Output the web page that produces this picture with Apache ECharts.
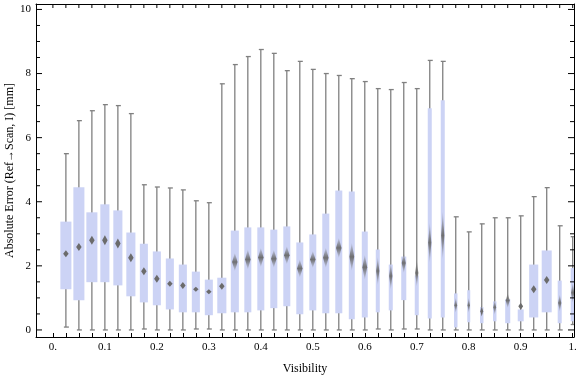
<!DOCTYPE html>
<html>
<head>
    <meta charset="utf-8">
    <title>Absolute Error vs Visibility</title>
    <script src="https://cdn.jsdelivr.net/npm/echarts@6.0.0/dist/echarts.min.js"></script>
    <style type="text/css">
        * {
            margin: 0;
            padding: 0;
        }

        #main {
            width: 576px;
            height: 377px;
        }
    </style>
</head>
<body>
<div id="main"></div>

<script type="text/javascript">
    // visibility bins (box centres)
    var visibility = [0.025, 0.05, 0.075, 0.1, 0.125, 0.15, 0.175, 0.2, 0.225, 0.25,
        0.275, 0.3, 0.325, 0.35, 0.375, 0.4, 0.425, 0.45, 0.475, 0.5,
        0.525, 0.55, 0.575, 0.6, 0.625, 0.65, 0.675, 0.7, 0.725, 0.75,
        0.775, 0.8, 0.825, 0.85, 0.875, 0.9, 0.925, 0.95, 0.975, 1.0];

    var whiskerLow = [0.09, 0, 0, 0, 0, 0, 0.03, 0, 0, 0,
        0.03, 0.03, 0, 0, 0, 0, 0, 0, 0, 0,
        0, 0, 0, 0, 0.03, 0, 0.03, 0.03, 0, 0,
        0, 0, 0, 0, 0, 0, 0, 0, 0, 0.17];

    var quart1 = [1.27, 0.93, 1.49, 1.49, 1.39, 1.05, 0.86, 0.77, 0.64, 0.55,
        0.55, 0.46, 0.52, 0.55, 0.55, 0.61, 0.68, 0.74, 0.49, 0.61,
        0.52, 0.52, 0.33, 0.39, 0.55, 0.61, 0.93, 0.46, 0.36, 0.39,
        0.08, 0.24, 0.21, 0.27, 0.21, 0.27, 0.39, 0.55, 0.21, 0.27];

    var median = [2.38, 2.59, 2.80, 2.80, 2.70, 2.25, 1.83, 1.60, 1.44, 1.39,
        1.27, 1.19, 1.36, 2.12, 2.20, 2.26, 2.22, 2.33, 1.92, 2.20,
        2.25, 2.56, 2.28, 1.96, 1.84, 1.68, 2.09, 1.78, 2.72, 2.95,
        0.77, 0.77, 0.58, 0.71, 0.92, 0.74, 1.27, 1.56, 0.84, 1.16];

    var quart3 = [3.38, 4.45, 3.67, 3.92, 3.73, 3.04, 2.69, 2.45, 2.23, 2.04,
        1.82, 1.57, 1.63, 3.10, 3.20, 3.20, 3.13, 3.23, 2.73, 2.98,
        3.63, 4.35, 4.32, 3.07, 2.51, 2.04, 2.29, 1.70, 6.92, 7.17,
        1.14, 1.24, 0.71, 0.89, 0.96, 0.64, 2.04, 2.48, 1.54, 1.93];

    var whiskerHigh = [5.50, 6.53, 6.84, 7.03, 7.00, 6.75, 4.53, 4.46, 4.43, 4.37,
        4.03, 3.97, 7.68, 8.28, 8.53, 8.75, 8.63, 8.09, 8.38, 8.13,
        8.00, 7.94, 7.84, 7.75, 7.53, 7.50, 7.72, 7.53, 8.41, 8.38,
        3.53, 3.06, 3.31, 3.50, 3.50, 3.56, 4.16, 4.44, 3.25, 2.91];

    // relative box width (fraction of one bin) and vertical smear of the median mark (px)
    var boxWidthRel = [0.85, 0.85, 0.85, 0.70, 0.70, 0.70, 0.62, 0.62, 0.62, 0.62,
        0.62, 0.62, 0.70, 0.62, 0.54, 0.54, 0.54, 0.54, 0.54, 0.54,
        0.54, 0.54, 0.46, 0.46, 0.31, 0.31, 0.39, 0.31, 0.31, 0.31,
        0.27, 0.23, 0.27, 0.27, 0.39, 0.46, 0.70, 0.77, 0.31, 0.31];
    var medianSmear = [7, 8, 9, 10, 10, 9, 8, 8, 6, 7,
        5, 5, 7, 18, 20, 19, 18, 18, 18, 17,
        20, 20, 28, 25, 28, 27, 20, 27, 40, 48,
        15, 15, 10, 15, 15, 7, 8, 8, 17, 20];

    var xLabelTicks = [0, 0.1, 0.2, 0.3, 0.4, 0.5, 0.6, 0.7, 0.8, 0.9, 1];
    var yLabelTicks = [0, 2, 4, 6, 8, 10];

    var xTicks = [];
    for (var i = 0; i <= 40; i++) xTicks.push(+(i * 0.025).toFixed(3));
    var yTicks = [];
    for (var j = 0; j <= 20; j++) yTicks.push(j * 0.5);

    var boxData = [];
    for (var k = 0; k < visibility.length; k++) {
        boxData.push([visibility[k], whiskerLow[k], quart1[k], median[k], quart3[k], whiskerHigh[k], boxWidthRel[k], medianSmear[k]]);
    }

    var xMin = -0.0325, xMax = 1.0025;
    var yMin = -0.22, yMax = 10.17;

    var myChart = echarts.init(document.getElementById('main'));

    var serif = 'Liberation Serif';
    var lineStyle = {color: '#000', width: 1};

    function renderItem(params, api) {
        var x = api.value(0);
        var lo = api.coord([x, api.value(1)]);
        var p1 = api.coord([x, api.value(2)]);
        var pm = api.coord([x, api.value(3)]);
        var p3 = api.coord([x, api.value(4)]);
        var hi = api.coord([x, api.value(5)]);
        var bw = api.value(6) * api.size([0.025, 0])[0];
        var mh = api.value(7);
        var mw = Math.min(5.5, bw * 0.8);
        var cx = lo[0];
        var grey = '#808080';

        var markFill;
        if (mh <= 10) {
            markFill = '#6b6b6b';
        } else {
            markFill = new echarts.graphic.LinearGradient(0, 0, 0, 1, [
                {offset: 0, color: 'rgba(110,110,110,0.1)'},
                {offset: 0.5, color: 'rgba(105,105,105,0.95)'},
                {offset: 1, color: 'rgba(110,110,110,0.1)'}
            ]);
        }

        return {
            type: 'group',
            children: [
                {
                    type: 'line',
                    shape: {x1: cx, y1: lo[1], x2: cx, y2: hi[1]},
                    style: {stroke: grey, lineWidth: 1.3}
                },
                {
                    type: 'line',
                    shape: {x1: cx - 2, y1: hi[1], x2: cx + 3, y2: hi[1]},
                    style: {stroke: grey, lineWidth: 1.3}
                },
                {
                    type: 'line',
                    shape: {x1: cx - 2, y1: lo[1], x2: cx + 3, y2: lo[1]},
                    style: {stroke: grey, lineWidth: 1.3}
                },
                {
                    type: 'rect',
                    shape: {x: cx - bw / 2, y: p3[1], width: bw, height: p1[1] - p3[1]},
                    style: {fill: '#ccd3f5'}
                },
                {
                    type: 'polygon',
                    shape: {
                        points: [[cx, pm[1] - mh / 2], [cx + mw / 2, pm[1]], [cx, pm[1] + mh / 2], [cx - mw / 2, pm[1]]]
                    },
                    style: {fill: markFill}
                }
            ]
        };
    }

    // frame ticks on top (x) and on left/right (y), placed through the axes' scales
    function renderXTick(params, api) {
        var v = api.value(0);
        var p = api.coord([v, yMax]);
        return {
            type: 'line',
            shape: {x1: p[0], y1: p[1], x2: p[0], y2: p[1] + 4},
            style: {stroke: '#000', lineWidth: 1}
        };
    }

    function renderYTick(params, api) {
        var v = api.value(1);
        var len = (v % 2 === 0) ? 6 : 4;
        var pl = api.coord([xMin, v]);
        var pr = api.coord([xMax, v]);
        return {
            type: 'group',
            children: [
                {type: 'line', shape: {x1: pl[0], y1: pl[1], x2: pl[0] + len, y2: pl[1]}, style: {stroke: '#000', lineWidth: 1}},
                {type: 'line', shape: {x1: pr[0], y1: pr[1], x2: pr[0] - len, y2: pr[1]}, style: {stroke: '#000', lineWidth: 1}}
            ]
        };
    }

    option = {
        animation: false,
        backgroundColor: '#fff',
        grid: {left: 36, right: 2, top: 4, bottom: 40, containLabel: false, outerBoundsMode: 'none'},
        xAxis: [
            {
                type: 'value', position: 'bottom', offset: 0, min: xMin, max: xMax,
                name: 'Visibility', nameLocation: 'middle', nameGap: 26, nameMoveOverlap: false,
                nameTextStyle: {fontFamily: serif, fontSize: 12, color: '#000'},
                axisLine: {show: true, onZero: false, lineStyle: lineStyle},
                axisTick: {show: true, inside: true, length: 4, customValues: xTicks, lineStyle: lineStyle},
                axisLabel: {
                    show: true, margin: 5, fontFamily: serif, fontSize: 11, color: '#000',
                    customValues: xLabelTicks,
                    formatter: function (v) {
                        if (v === 0) return '0.';
                        if (v === 1) return '1.';
                        return v.toFixed(1);
                    }
                },
                splitLine: {show: false}
            },
            {
                type: 'value', position: 'top', offset: 0, min: xMin, max: xMax,
                axisLine: {show: true, onZero: false, lineStyle: lineStyle},
                axisTick: {show: false},
                axisLabel: {show: false},
                splitLine: {show: false}
            }
        ],
        yAxis: [
            {
                type: 'value', position: 'left', offset: 0, min: yMin, max: yMax,
                name: 'Absolute Error (Ref\u2192Scan, I) [mm]', nameLocation: 'middle', nameGap: 20, nameMoveOverlap: false,
                nameTextStyle: {fontFamily: serif, fontSize: 12, color: '#000'},
                axisLine: {show: true, onZero: false, lineStyle: lineStyle},
                axisTick: {show: false},
                axisLabel: {show: true, margin: 5, fontFamily: serif, fontSize: 11, color: '#000', customValues: yLabelTicks},
                splitLine: {show: false}
            },
            {
                type: 'value', position: 'right', offset: 0, min: yMin, max: yMax,
                axisLine: {show: true, onZero: false, lineStyle: lineStyle},
                axisTick: {show: false},
                axisLabel: {show: false},
                splitLine: {show: false}
            }
        ],
        series: [
            {
                name: 'Absolute Error',
                type: 'custom',
                xAxisIndex: 0,
                yAxisIndex: 0,
                clip: true,
                renderItem: renderItem,
                data: boxData
            },
            {
                name: 'xTicks',
                type: 'custom',
                xAxisIndex: 0,
                yAxisIndex: 0,
                clip: false,
                silent: true,
                renderItem: renderXTick,
                data: xTicks.map(function (v) { return [v, yMax]; })
            },
            {
                name: 'yTicks',
                type: 'custom',
                xAxisIndex: 0,
                yAxisIndex: 0,
                clip: false,
                silent: true,
                renderItem: renderYTick,
                data: yTicks.map(function (v) { return [xMin, v]; })
            }
        ]
    };

    myChart.setOption(option);
</script>
</body>
</html>
